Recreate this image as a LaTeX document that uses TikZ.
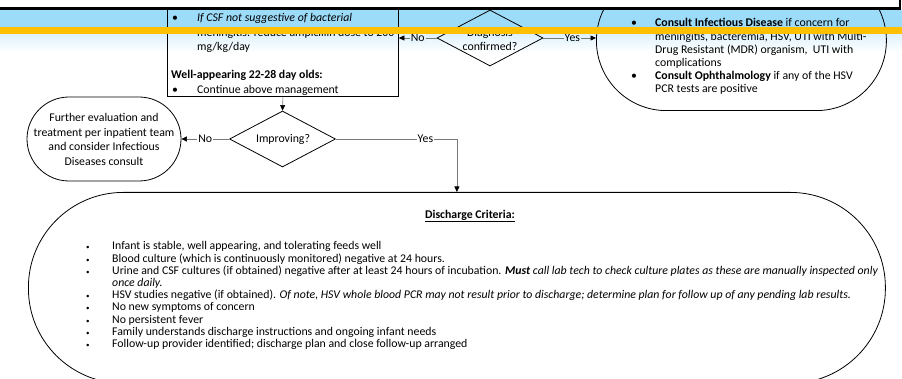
\documentclass[tikz,border=0pt]{standalone}
\usepackage{fontspec}
\setmainfont{Carlito}
\usetikzlibrary{shapes.geometric,arrows.meta}
\definecolor{bandblue}{RGB}{157,220,249}
\definecolor{bandorange}{RGB}{255,192,0}
\definecolor{fadeblue}{RGB}{222,242,252}
\definecolor{conncol}{RGB}{120,120,120}
\newcommand\fsz{\fontsize{11.8}{14.5}\selectfont}
\newcommand\sbul{\makebox[26pt][l]{\fontsize{7}{7}\selectfont•}}
\begin{document}
\begin{tikzpicture}[x=1pt,y=-1pt,
  shp/.style={draw=black, line width=0.8pt},
  term/.style={shp, rectangle, inner sep=0pt},
  dec/.style={shp, diamond, minimum width=106pt, minimum height=56pt, inner sep=0pt},
  conn/.style={draw=conncol, line width=0.6pt, -{Triangle[length=5.5pt,width=5pt,black]}},
  lbl/.style={fill=white, inner sep=1pt, font=\fsz},
  txt/.style={inner sep=0pt, anchor=base west}]
\path[use as bounding box] (0,0) rectangle (902,379);
\clip (0,0) rectangle (902,379);
\fill[white] (0,0) rectangle (902,379);
\fill[bandblue] (0,10) rectangle (902,27);
\shade[top color=fadeblue, bottom color=white] (0,34) rectangle (902,52);

% shapes
\node[shp, rectangle, minimum width=231pt, minimum height=140pt, anchor=south west, inner sep=0pt] (box) at (167,97) {};
\node[term, rounded corners=70pt, minimum width=290pt, minimum height=140pt, anchor=south west] (rt) at (596,111) {};
\node[term, rounded corners=42pt, minimum width=154pt, minimum height=84pt] (lt) at (104,139) {};
\node[term, rounded corners=95pt, minimum width=857pt, minimum height=191pt, anchor=north west] (dc) at (28,192) {};
\node[dec] (d1) at (490,38) {};
\node[dec] (d2) at (282.5,139) {};

% texts
\node[align=center, font=\fontsize{11.8}{14}\selectfont, inner sep=0pt] (d1t) at (490,39) {Diagnosis\\confirmed?};
\node[font=\fsz, inner sep=0pt] (d2t) at (283,139) {Improving?};
\node[align=center, font=\fontsize{11.8}{14.7}\selectfont, inner sep=0pt] (ltt) at (104,139.5) {Further evaluation and\\treatment per inpatient team\\and consider Infectious\\Diseases consult};

\node[txt, font=\fsz] (boxt) at (172,22) {\vtop{%
\hbox{\makebox[25pt][l]{•}\textit{If CSF not suggestive of bacterial}}
\hbox{\hspace*{25pt}meningitis: reduce ampicillin dose to 200}
\hbox{\hspace*{25pt}mg/kg/day}
\vskip13.5pt
\hbox{\kern-1pt\textbf{Well-appearing 22-28 day olds:}}
\hbox{\makebox[25pt][l]{•}Continue above management}}};

\node[txt, font=\fontsize{11.8}{13.2}\selectfont] (rtt) at (631,27) {\vtop{%
\hbox{\makebox[24pt][l]{•}\textbf{Consult Infectious Disease} if concern for}
\hbox{\hspace*{24pt}meningitis, bacteremia, HSV, UTI with Multi-}
\hbox{\hspace*{24pt}Drug Resistant (MDR) organism,\ \ UTI with}
\hbox{\hspace*{24pt}complications}
\hbox{\makebox[24pt][l]{•}\textbf{Consult Ophthalmology} if any of the HSV}
\hbox{\hspace*{24pt}PCR tests are positive}}};

\node[font=\fsz, inner sep=0pt] (dct) at (470,216) {\textbf{\underline{Discharge Criteria:}}};

\node[txt, font=\fontsize{11.8}{12.2}\selectfont] (dcl) at (86,250) {\vtop{%
\hbox{\sbul Infant is stable, well appearing, and tolerating feeds well}
\hbox{\sbul Blood culture (which is continuously monitored) negative at 24 hours.}
\hbox{\sbul Urine and CSF cultures (if obtained) negative after at least 24 hours of incubation. \textbf{\textit{Must}} \textit{call lab tech to check culture plates as these are manually inspected only}}
\hbox{\hspace*{26pt}\textit{once daily.}}
\hbox{\sbul HSV studies negative (if obtained). \textit{Of note, HSV whole blood PCR may not result prior to discharge; determine plan for follow up of any pending lab results.}}
\hbox{\sbul No new symptoms of concern}
\hbox{\sbul No persistent fever}
\hbox{\sbul Family understands discharge instructions and ongoing infant needs}
\hbox{\sbul Follow-up provider identified; discharge plan and close follow-up arranged}}};

% connectors
\draw[conn] (d1.west) -- node[lbl, fill=fadeblue!80!white] {No} (d1.west -| box.east);
\draw[conn] (d1.east) -- node[lbl, fill=fadeblue!80!white, pos=0.55] {Yes} (d1.east -| rt.west);
\draw[conn] (box.south) -- (d2.north);
\draw[conn] (d2.west) -- node[lbl] {No} (lt.east);
\draw[conn] (d2.east) -| node[lbl, pos=0.37] {Yes} (dc.north);

% overlay
\fill[bandorange] (0,27) rectangle (902,34);
\fill[white] (0,0) rectangle (900,8.7);
\draw[line width=2.8pt] (-2,8.7) -- (900,8.7);
\draw[line width=1.4pt] (900,-2) -- (900,10);
\end{tikzpicture}
\end{document}
